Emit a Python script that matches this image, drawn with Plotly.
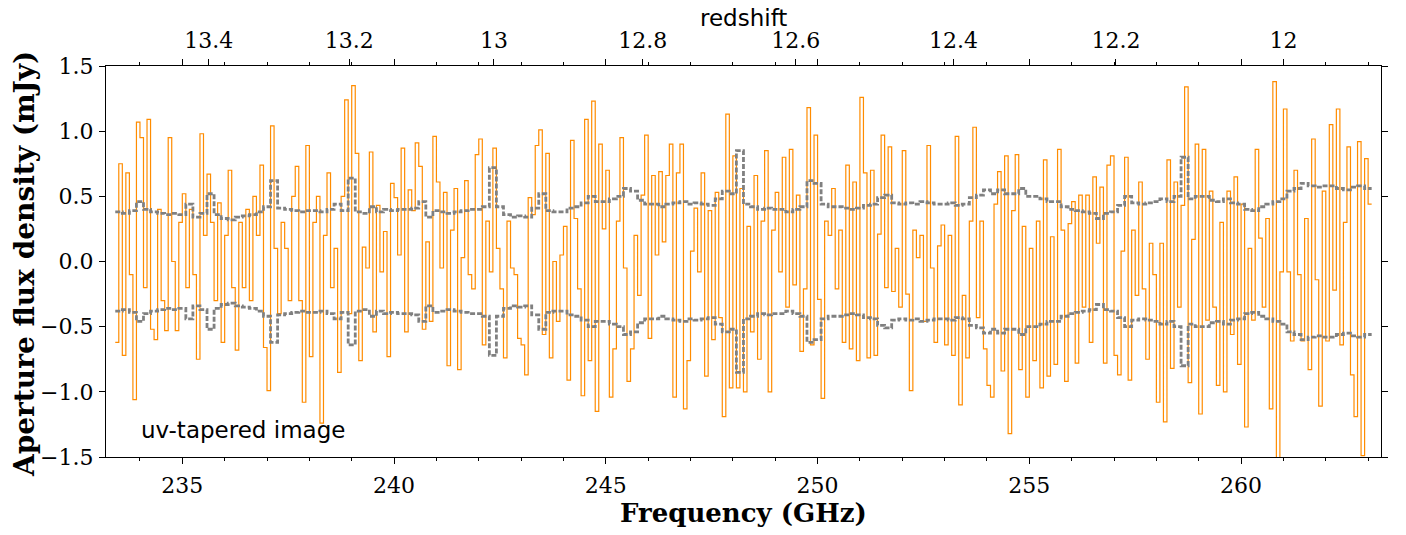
import numpy as np
import plotly.graph_objects as go

# ---------------- data ----------------
F0 = 233.0 + 5.0 / 12.0      # first channel edge (GHz)
DF = 1.0 / 12.0              # channel width (GHz)
REST_OIII = 3393.006         # [OIII] 88 micron rest frequency (GHz)

# aperture flux density per channel (mJy), in frequency order
flux_233_239 = [
    -0.62, 0.75, -0.72, 0.68, -0.10, -1.06, 1.07, 0.95, -0.20, 1.09,
    -0.52, -0.60, 0.40, -0.30, -0.53, 0.95, 0.00, -0.53, 0.30, 0.52,
    -0.20, 0.40, -0.10, -0.75, 0.98, 0.20, 0.67, 0.30, -0.30, 0.45,
    -0.62, 0.20, 0.70, -0.20, -0.68, 0.30, -0.20, 0.40, -0.30, 0.50,
    0.20, 0.74, -0.66, -0.99, 1.04, 0.10, -0.40, 0.30, 0.10, -0.30,
    0.50, 0.73, -0.30, -1.08, 0.89, -0.73, 0.30, 0.50, -1.24, 0.20,
    0.68, -0.20, 0.10, -0.85, 0.50, 1.24, -0.40, 1.35,
]
flux_239_243 = [
    0.83, -0.76, 0.11, -0.05, 0.84, -0.54, 0.43, -0.08, 0.23, -0.73,
    0.60, 0.49, 0.05, 0.87, -0.54, 0.55, 0.39, 0.91, 0.73, -0.52,
    0.15, -0.46, 0.96, 0.61, -0.05, 0.53, -0.80, 0.24, 0.56, -0.83,
    0.03, 0.62, -0.10, -0.21, 0.82, 0.94, -0.64, 0.31, -0.08, 0.87,
    0.10, -0.21, -0.74, 0.31, -0.05, -0.10, -0.59,
]
flux_243_247 = [
    -0.64, -0.87, 0.49, 0.36, 0.89, 1.01, -0.56, 0.83, -0.74, 0.00,
    -0.46, 0.05, 0.27, -0.91, 0.93, 0.33, -0.21, -1.03, 1.09, -0.76,
    1.23, -1.15, 0.90, 0.25, 0.70, -1.04, -0.67, 0.31, 0.95, -0.05,
    -0.92, -0.67, 0.20, -0.26, 0.51, 0.97, -0.59, 0.66, 0.05, 0.69,
    0.15, 0.66, 0.90, -1.04, 0.68, 0.90, -1.13,
]
flux_247_251 = [
    -0.76, 0.08, 0.41, -0.08, 0.68, -0.88, 0.39, -0.60, 0.53, -0.43,
    -1.19, 1.13, -0.97, 0.81, -0.97, 0.56, -1.00, 0.27, -0.54, 0.66,
    -0.75, 0.31, 0.85, -1.00, 0.24, 0.53, -0.08, 0.80, -0.35, 0.86,
    -0.18, 0.51, -0.69, -0.21, 1.18, -0.64, 0.97, -0.29, -1.05, 0.31,
    0.20, 0.56, -0.21, 0.24, -0.62, 0.74,
]
flux_251_255 = [
    -0.67, 0.61, -0.76, 1.26, 0.68, -0.74, 0.70, -0.72, 0.21, 0.97,
    -0.20, 0.88, -0.23, 0.10, -0.35, 0.85, -0.25, -0.99, 0.24, 0.03,
    0.20, -0.46, 0.89, -0.05, -0.62, 0.12, 0.28, -0.64, 0.20, -0.72,
    0.96, -1.10, -0.26, -0.74, 0.31, 1.03, -0.43, 0.31, -0.67, -0.95,
    -1.04, 0.44, 0.69, -0.84, 0.81, -1.32, 0.39,
]
flux_255_259 = [
    0.82, -0.83, 0.27, -1.04, 0.10, -0.76, 0.31, -0.97, 0.78, -0.88,
    0.19, -0.79, 0.86, 0.24, -0.92, 0.29, 0.46, -0.78, 0.51, -0.35,
    0.51, -0.62, 0.65, 0.14, 0.57, -0.78, 0.74, 0.81, -0.72, -0.87,
    0.08, 0.80, -0.91, 0.24, -0.26, 0.61, -0.21, -0.75, 0.14, -0.10,
    -1.08, 0.14, -1.23, 0.78, -0.82, 0.61,
]
flux_259_263 = [
    -0.35, 0.43, 1.34, -0.93, 0.17, 0.90, -1.17, 0.86, -0.45, 0.54,
    -0.35, -0.95, 0.30, -1.00, 0.54, -0.56, 0.65, -0.79, 0.44, -1.27,
    0.10, -0.45, 0.86, 0.18, -0.35, 0.33, -1.13, 1.38, -1.55, -0.08,
    1.17, -0.08, -0.61, 0.70, -0.10, -0.61, 0.33, -0.83, 0.94, -0.14,
    -1.11, 0.54, -0.61, 1.05, -0.22, 1.17, -0.64, 0.30, 0.88, -0.87,
    -1.19, 0.92, -1.49, 0.79, 0.44,
]

# 1-sigma noise per pair of channels (mJy), drawn as +/- dashed curves
rms_233_238 = [
    0.38, 0.37, 0.39, 0.46,
    0.40, 0.38, 0.37, 0.36, 0.37, 0.36,
    0.44, 0.34, 0.37, 0.52, 0.36, 0.33,
    0.32, 0.34, 0.35, 0.36, 0.38, 0.42,
    0.62, 0.41, 0.40, 0.39, 0.38, 0.39,
]
rms_238_243 = [
    0.39, 0.38, 0.40, 0.44, 0.39, 0.64,
    0.38, 0.37, 0.42, 0.38, 0.40, 0.39,
    0.40, 0.40, 0.41, 0.46, 0.34, 0.39,
    0.38, 0.37, 0.38, 0.39, 0.40, 0.40,
    0.42, 0.72, 0.42, 0.36, 0.34, 0.35,
]
rms_243_248 = [
    0.34, 0.41, 0.52, 0.39, 0.38, 0.38,
    0.41, 0.42, 0.45, 0.50, 0.46, 0.46,
    0.48, 0.50, 0.56, 0.54, 0.47, 0.44,
    0.44, 0.42, 0.44, 0.45, 0.46, 0.44,
    0.45, 0.44, 0.43, 0.48, 0.54, 0.52,
]
rms_248_253 = [
    0.85, 0.44, 0.42, 0.40, 0.41, 0.40,
    0.40, 0.38, 0.40, 0.42, 0.62, 0.60,
    0.44, 0.42, 0.42, 0.41, 0.40, 0.41,
    0.43, 0.44, 0.49, 0.51, 0.45, 0.44,
    0.45, 0.44, 0.46, 0.45, 0.44, 0.44,
]
rms_253_258 = [
    0.45, 0.43, 0.44, 0.49, 0.51, 0.55,
    0.52, 0.55, 0.52, 0.52, 0.56, 0.50,
    0.50, 0.48, 0.46, 0.46, 0.42, 0.40,
    0.39, 0.38, 0.37, 0.33, 0.37, 0.38,
    0.43, 0.50, 0.45, 0.44, 0.45, 0.46,
]
rms_258_263 = [
    0.48, 0.46, 0.50, 0.80, 0.48, 0.50,
    0.50, 0.47, 0.46, 0.48, 0.45, 0.44,
    0.40, 0.39, 0.42, 0.44, 0.46, 0.48,
    0.54, 0.56, 0.60, 0.58, 0.57, 0.58,
    0.58, 0.56, 0.55, 0.57, 0.58, 0.56,
]

freq_ticks = [235, 240, 245, 250, 255, 260]
redshift_ticks = [13.4, 13.2, 13.0, 12.8, 12.6, 12.4, 12.2, 12.0]
redshift_labels = ["13.4", "13.2", "13", "12.8", "12.6", "12.4", "12.2", "12"]
flux_ticks = [-1.5, -1.0, -0.5, 0.0, 0.5, 1.0, 1.5]

# ---------------- assemble ----------------
flux = (flux_233_239 + flux_239_243 + flux_243_247 + flux_247_251
        + flux_251_255 + flux_255_259 + flux_259_263)
rms = rms_233_238 + rms_238_243 + rms_243_248 + rms_248_253 + rms_253_258 + rms_258_263

f_edges = F0 + DF * np.arange(len(flux) + 1)
flux_y = flux + [flux[-1]]
r_edges = F0 + 2 * DF * np.arange(len(rms) + 1)
rms_up = rms + [rms[-1]]
rms_dn = [-v for v in rms_up]

XMIN, XMAX = 233.198, 263.304

SERIF = "DejaVu Serif"
SANS = "DejaVu Sans"

# plot-area geometry in pixels
W, H = 1406, 535
L, R, T, B = 106, 25, 66, 78
PW, PH = W - L - R, H - T - B


def px_x(px):
    return (px - L) / PW


def px_y(py):
    return (H - B - py) / PH


fig = go.Figure()
fig.add_trace(go.Scatter(x=f_edges, y=flux_y, mode="lines",
                         line=dict(color="#ff8c00", width=1.2, shape="hv"),
                         hoverinfo="skip", showlegend=False))
for yy in (rms_up, rms_dn):
    fig.add_trace(go.Scatter(x=r_edges, y=yy, mode="lines",
                             line=dict(color="#808080", width=2.8, dash="5px,2px", shape="hv"),
                             hoverinfo="skip", showlegend=False))
# invisible trace that activates the top redshift axis
fig.add_trace(go.Scatter(x=[XMIN, XMAX], y=[0, 0], xaxis="x2", mode="markers",
                         marker=dict(opacity=0), hoverinfo="skip", showlegend=False))

tickfont = dict(family=SERIF, size=22, color="black")

fig.update_layout(
    width=W, height=H,
    margin=dict(l=L, r=R, t=T, b=B, autoexpand=False),
    paper_bgcolor="white", plot_bgcolor="white",
    showlegend=False,
    xaxis=dict(
        range=[XMIN, XMAX], tickvals=freq_ticks, ticktext=[str(v) for v in freq_ticks],
        showline=True, linecolor="black", linewidth=1.3, mirror="ticks",
        ticks="outside", ticklen=6, tickwidth=1.3, tickcolor="black",
        minor=dict(dtick=1, tick0=235, ticks="outside", ticklen=3, tickwidth=1, tickcolor="black"),
        showgrid=False, zeroline=False, tickfont=tickfont, ticklabelstandoff=2,
        automargin=False,
    ),
    xaxis2=dict(
        overlaying="x", side="top", range=[XMIN, XMAX],
        tickvals=[REST_OIII / (1.0 + z) for z in redshift_ticks], ticktext=redshift_labels,
        showline=False, ticks="outside", ticklen=6, tickwidth=1.3, tickcolor="black",
        showgrid=False, zeroline=False, tickfont=tickfont, ticklabelstandoff=2,
        automargin=False,
    ),
    yaxis=dict(
        range=[-1.5, 1.5], tickvals=flux_ticks, tickformat=".1f",
        showline=True, linecolor="black", linewidth=1.3, mirror="ticks",
        ticks="outside", ticklen=6, tickwidth=1.3, tickcolor="black",
        showgrid=False, zeroline=False, tickfont=tickfont, ticklabelstandoff=1,
        automargin=False,
    ),
    annotations=[
        dict(text="uv-tapered image", xref="paper", yref="paper",
             x=px_x(139), y=px_y(430), xanchor="left", yanchor="middle",
             showarrow=False, font=dict(family=SANS, size=23, color="black")),
        dict(text="redshift", xref="paper", yref="paper",
             x=px_x(743), y=px_y(18), xanchor="center", yanchor="middle",
             showarrow=False, font=dict(family=SANS, size=23, color="black")),
        dict(text="<b>Frequency (GHz)</b>", xref="paper", yref="paper",
             x=px_x(743), y=px_y(513), xanchor="center", yanchor="middle",
             showarrow=False, font=dict(family=SERIF, size=26, color="black")),
        dict(text="<b>Aperture flux density (mJy)</b>", xref="paper", yref="paper",
             x=px_x(24), y=px_y(264), xanchor="center", yanchor="middle", textangle=-90,
             showarrow=False, font=dict(family=SERIF, size=28, color="black")),
    ],
)

# remove the browser's default page margin so the figure sits at (0, 0)
fig.write_html(
    "out.html",
    config={"displayModeBar": False},
    post_script="document.body.style.margin='0';document.body.style.padding='0';"
                "document.documentElement.style.overflow='hidden';",
)
